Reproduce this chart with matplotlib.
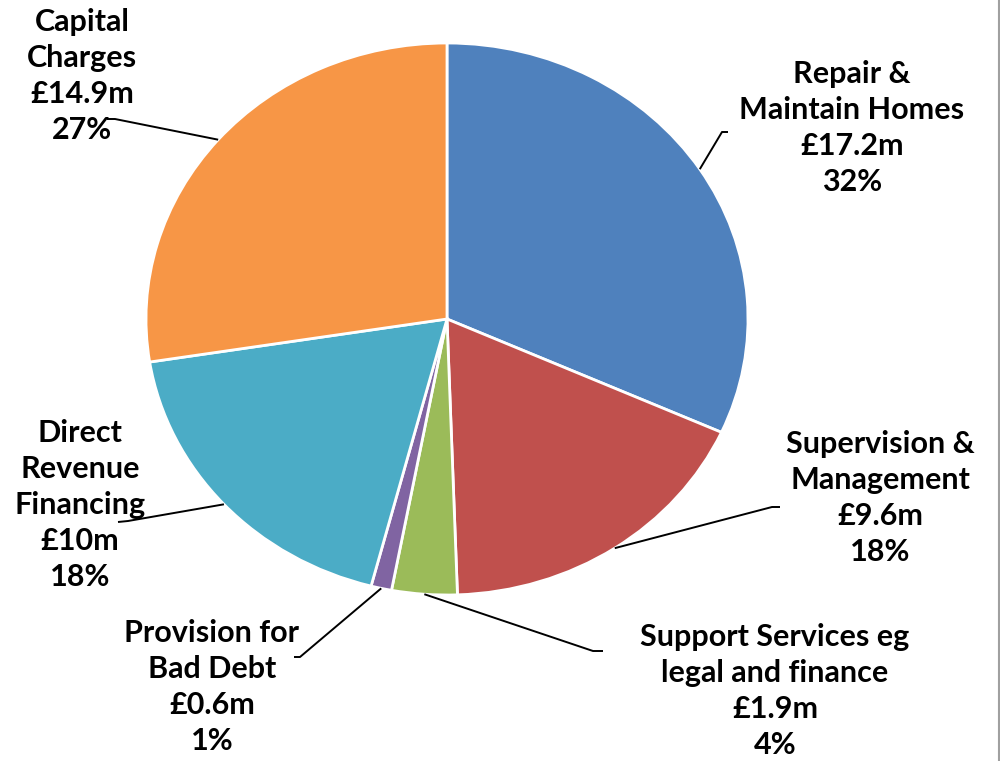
import numpy as np
import matplotlib
matplotlib.use("Agg")
import matplotlib.pyplot as plt
from matplotlib.lines import Line2D

# Housing revenue account expenditure breakdown
categories = [
    "Repair &\nMaintain Homes",
    "Supervision &\nManagement",
    "Support Services eg\nlegal and finance",
    "Provision for\nBad Debt",
    "Direct\nRevenue\nFinancing",
    "Capital\nCharges",
]
amounts = [17.2, 9.6, 1.9, 0.6, 10.0, 14.9]          # £ millions
amount_labels = ["£17.2m", "£9.6m", "£1.9m", "£0.6m", "£10m", "£14.9m"]
percent_labels = ["32%", "18%", "4%", "1%", "18%", "27%"]
colors = ["#4F81BD", "#C0504D", "#9BBB59", "#8064A2", "#4BACC6", "#F79646"]

W, H, DPI = 1000, 761, 100
CX, CY = 447, 319          # pie centre in pixels (from top-left)
RX, RY = 301, 276          # horizontal / vertical pie radius in pixels

# label block centres and leader elbow points, in pixels from top-left
label_pos = [(852, 128), (880, 498), (775, 691), (212, 687), (80, 505), (82, 76)]
elbow_pos = [[(728, 132), (722, 132)],
             [(780, 507), (772, 507)],
             [(603, 651), (593, 651)],
             [(294, 657), (300, 657)],
             [(118, 522), (128, 521)],
             [(107, 119), (115, 119)]]

plt.rcParams["font.family"] = ["Lato", "DejaVu Sans"]

fig = plt.figure(figsize=(W / DPI, H / DPI), dpi=DPI)
ax = fig.add_axes([0, 0, 1, 1])

wedges, _ = ax.pie(amounts, colors=colors, startangle=90, counterclock=False,
                   radius=1.0,
                   wedgeprops=dict(edgecolor="white", linewidth=2.0))
ax.set_aspect("auto")
ax.set_xlim(-CX / RX, (W - CX) / RX)
ax.set_ylim(-(H - CY) / RY, CY / RY)
ax.axis("off")


def px(x, y):
    """Pixel position (from top-left) to data coordinates."""
    return (x - CX) / RX, (CY - y) / RY


for w, cat, amt, pct, lp, elbow in zip(wedges, categories, amount_labels,
                                        percent_labels, label_pos, elbow_pos):
    mid = np.deg2rad((w.theta1 + w.theta2) / 2)
    edge = (np.cos(mid), np.sin(mid))
    pts = [px(*p) for p in elbow] + [edge]
    xs, ys = zip(*pts)
    ax.add_line(Line2D(xs, ys, color="black", linewidth=1.4,
                       solid_capstyle="butt"))
    tx, ty = px(*lp)
    ax.text(tx, ty, f"{cat}\n{amt}\n{pct}", ha="center", va="center",
            fontsize=22, fontweight="bold", color="black",
            linespacing=1.34, zorder=5)

# right border of the chart area
fig.add_artist(Line2D([0.9985, 0.9985], [0, 1], transform=fig.transFigure,
                      color="#A0A0A0", linewidth=1.5))

fig.savefig("out.png", dpi=DPI, facecolor="white")
